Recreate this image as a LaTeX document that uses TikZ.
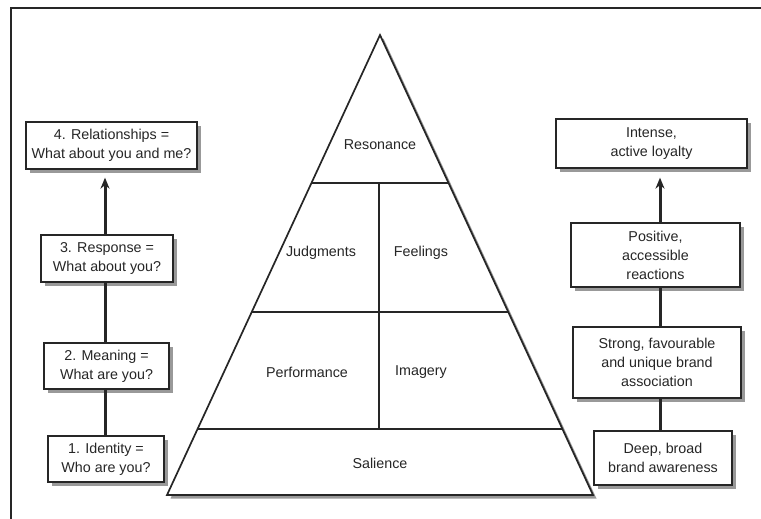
\documentclass[tikz,border=0pt]{standalone}
\usepackage{fontspec}
\setmainfont{Liberation Sans}
\usetikzlibrary{shadows,arrows.meta}
\begin{document}
\begin{tikzpicture}[x=1pt,y=-1pt,
  txt/.style={font=\fontsize{14.3}{19}\selectfont, align=center, text=black!85},
  box/.style={txt, draw=black!85, line width=1.3pt, fill=white, inner sep=0pt,
    drop shadow={shadow xshift=3.5pt, shadow yshift=-3.5pt, fill=black!40, opacity=1}},
  link/.style={line width=3pt, draw=black!85},
  arr/.style={link, -{Stealth[length=11pt,width=9pt]}},
  pline/.style={line width=1.7pt, draw=black!85}]
\useasboundingbox (0,0) rectangle (761,519);
% outer frame
\draw[line width=1.8pt, black!85] (11,519) -- (11,8) -- (761,8);
% pyramid
\coordinate (apex) at (380,35);
\coordinate (bl) at (167,495);
\coordinate (br) at (593,495);
\fill[black!40] ([xshift=3.5pt,yshift=-3.5pt]apex) -- ([xshift=3.5pt,yshift=-3.5pt]br) -- ([xshift=3.5pt,yshift=-3.5pt]bl) -- cycle;
\filldraw[pline, fill=white] (apex) -- (br) -- (bl) -- cycle;
\draw[pline] (311.6,183) -- (448.4,183);
\draw[pline] (251.9,312) -- (508.1,312);
\draw[pline] (197.3,429) -- (562.7,429);
\draw[pline] (379,183) -- (379,429);
\node[txt] (res) at (380,145) {Resonance};
\node[txt] (jud) at (321,253) {Judgments};
\node[txt] (fee) at (421,253) {Feelings};
\node[txt] (per) at (307,372) {Performance};
\node[txt] (ima) at (421,372) {Imagery};
\node[txt] (sal) at (380,463) {Salience};
% left boxes
\node[box, minimum width=171pt, minimum height=47pt] (l4) at (111.5,145.5) {4. Relationships =\\What about you and me?};
\node[box, minimum width=132pt, minimum height=47pt] (l3) at (107,258.5) {3. Response =\\What about you?};
\node[box, minimum width=125pt, minimum height=46pt] (l2) at (106.5,366) {2. Meaning =\\What are you?};
\node[box, minimum width=116pt, minimum height=46pt] (l1) at (106,459) {1. Identity =\\Who are you?};
\draw[link] (l1.north -| 105,0) -- (l2.south -| 105,0);
\draw[link] (l2.north -| 105,0) -- (l3.south -| 105,0);
\draw[arr] (l3.north -| 105,0) -- ([yshift=-8pt]l4.south -| 105,0);
% right boxes
\node[box, minimum width=191pt, minimum height=49pt] (r4) at (651.5,143.5) {Intense,\\active loyalty};
\node[box, minimum width=169pt, minimum height=64pt] (r3) at (655.5,255) {Positive,\\accessible\\reactions};
\node[box, minimum width=168pt, minimum height=71pt] (r2) at (657,362.5) {Strong, favourable\\and unique brand\\association};
\node[box, minimum width=138pt, minimum height=54pt] (r1) at (663,458) {Deep, broad\\brand awareness};
\draw[link] (r1.north -| 660,0) -- (r2.south -| 660,0);
\draw[link] (r2.north -| 660,0) -- (r3.south -| 660,0);
\draw[arr] (r3.north -| 660,0) -- ([yshift=-9pt]r4.south -| 660,0);
\end{tikzpicture}
\end{document}
